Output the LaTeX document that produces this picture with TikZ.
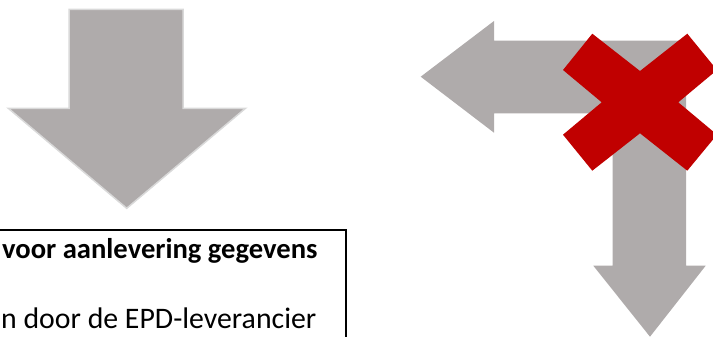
\documentclass[tikz,border=0pt]{standalone}
\usepackage{fontspec}
\setmainfont{Carlito}
\definecolor{arrowgrey}{RGB}{175,171,171}
\definecolor{arrowedge}{RGB}{217,217,217}
\definecolor{crossred}{RGB}{192,0,0}
\tikzset{
  greyarrow/.style={fill=arrowgrey, draw=arrowedge, line width=1.5pt, line join=miter},
  greyarrowb/.style={fill=arrowgrey, draw=none},
  redcross/.style={fill=crossred, draw=none},
  framebox/.style={draw=black, line width=2.4pt},
  txt/.style={anchor=base west, inner sep=0pt}
}
\begin{document}
\begin{tikzpicture}[x=1pt, y=-1pt]
\useasboundingbox (0,0) rectangle (713,337);
\clip (0,0) rectangle (713,337);
% left down arrow
\draw[greyarrow] (69,9.5) -- (183,9.5) -- (183,108.3) -- (245.5,108.3) -- (126.7,208.3) -- (8.3,108.3) -- (69,108.3) -- cycle;
% bent arrow (left and down)
\fill[greyarrowb] (420.7,76.7) -- (494,21) -- (494,40.7) -- (686,40.7) -- (686,265.7) -- (705.7,265.7) -- (650,336.7) -- (593.3,265.7) -- (612.7,265.7) -- (612.7,113.3) -- (494,113.3) -- (494,132.7) -- cycle;
% red cross
\fill[redcross] (640,71) -- (687.3,33.7) -- (717,70) -- (678.3,102.3) -- (717,134.7) -- (687.3,170.7) -- (640,133.3) -- (592.3,170.7) -- (563,134.7) -- (601.7,102.3) -- (563,70) -- (592.3,33.7) -- cycle;
% text box
\draw[framebox] (-5,230) rectangle (346,360);
\node[txt, font=\fontsize{28.6}{32}\selectfont] (t1) at (2,258.5) {\textbf{voor aanlevering gegevens}};
\node[txt, font=\fontsize{29.8}{34}\selectfont] (t2) at (1,328) {n door de EPD-leverancier};
\end{tikzpicture}
\end{document}
